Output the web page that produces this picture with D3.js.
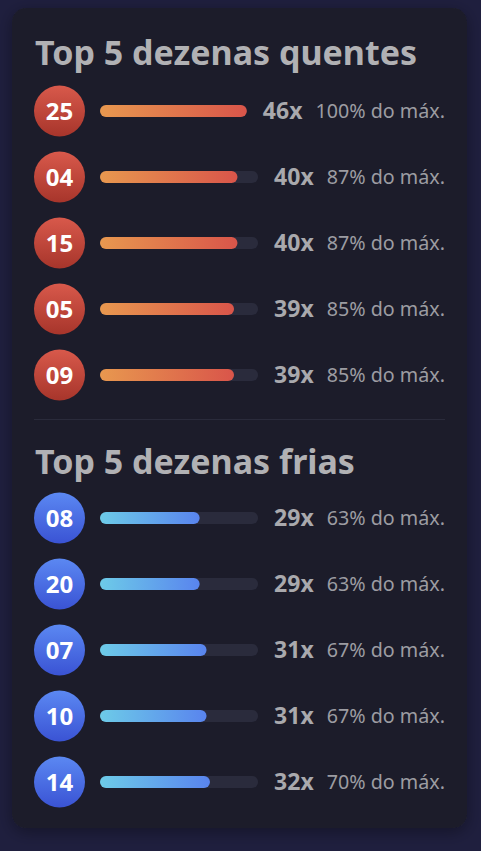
<!DOCTYPE html>
<html>
<head>
<meta charset="utf-8">
<script src="https://cdn.jsdelivr.net/npm/d3@7"></script>
<style>
  html, body { margin: 0; padding: 0; background: #1f1f3e; }
  svg { display: block; }
</style>
</head>
<body>
<div id="main"></div>
<script>
const W = 481, H = 851;

// data
const hotNumbers = ["25", "04", "15", "05", "09"];
const hotCounts = [46, 40, 40, 39, 39];
const coldNumbers = ["08", "20", "07", "10", "14"];
const coldCounts = [29, 29, 31, 31, 32];
const maxCount = 46;
const titles = ["Top 5 dezenas quentes", "Top 5 dezenas frias"];

const FONT = "'Noto Sans', 'Open Sans', sans-serif";

const svg = d3.select("#main").append("svg")
    .attr("width", W)
    .attr("height", H);

const defs = svg.append("defs");

function linGrad(id, c1, c2, vertical) {
    let g = defs.append("linearGradient").attr("id", id)
        .attr("x1", 0).attr("y1", 0)
        .attr("x2", vertical ? 0 : 1).attr("y2", vertical ? 1 : 0);
    g.append("stop").attr("offset", "0%").attr("stop-color", c1);
    g.append("stop").attr("offset", "100%").attr("stop-color", c2);
}
linGrad("ballHot", "#d8594b", "#a7352b", true);
linGrad("ballCold", "#5b88f2", "#3a53d4", true);
linGrad("barHot", "#e8984f", "#d9554a", false);
linGrad("barCold", "#6dcbe8", "#5984ee", false);

// soft shadow under the card
let shadow = defs.append("filter").attr("id", "cardShadow")
    .attr("x", "-10%").attr("y", "-10%").attr("width", "120%").attr("height", "120%");
shadow.append("feDropShadow")
    .attr("dx", 0).attr("dy", 4).attr("stdDeviation", 8)
    .attr("flood-color", "#000").attr("flood-opacity", 0.35);

// card
svg.append("rect")
    .attr("x", 12).attr("y", 8)
    .attr("width", 455).attr("height", 820)
    .attr("rx", 14)
    .attr("fill", "#1c1c2b")
    .attr("filter", "url(#cardShadow)");

const left = 35, right = 445;
const ballCx = 59.5, ballR = 25.5, barX = 100, barH = 12;

function drawSection(title, numbers, counts, titleY, firstRowY, kind) {
    let g = svg.append("g");
    g.append("text")
        .attr("x", left).attr("y", titleY)
        .attr("font-family", FONT)
        .attr("font-weight", 700)
        .attr("font-size", 34)
        .attr("fill", "#b1b1b4")
        .text(title);

    let y = d3.scaleBand()
        .domain(numbers)
        .range([firstRowY - 33, firstRowY - 33 + 66 * numbers.length]);

    let rows = g.selectAll("g.row")
        .data(numbers.map((n, i) => ({num: n, count: counts[i]})))
        .enter()
        .append("g")
        .attr("class", "row")
        .attr("transform", d => `translate(0,${y(d.num) + y.bandwidth() / 2})`);

    rows.append("circle")
        .attr("cx", ballCx).attr("cy", 0).attr("r", ballR)
        .attr("fill", `url(#ball${kind})`);

    rows.append("text")
        .attr("x", ballCx).attr("y", 0)
        .attr("dy", "0.36em")
        .attr("text-anchor", "middle")
        .attr("font-family", FONT)
        .attr("font-weight", 700)
        .attr("font-size", 24)
        .attr("fill", "#ffffff")
        .text(d => d.num);

    // right-hand labels, laid out from the right like a flex row
    rows.append("text")
        .attr("class", "pct")
        .attr("x", right).attr("y", 0)
        .attr("dy", "0.36em")
        .attr("text-anchor", "end")
        .attr("font-family", FONT)
        .attr("font-size", 19.7)
        .attr("fill", "#9c9ca2")
        .text(d => Math.round(d.count / maxCount * 100) + "% do máx.");

    rows.each(function(d) {
        let row = d3.select(this);
        let pw = row.select("text.pct").node().getComputedTextLength();
        let cntX = right - pw - 13;
        let cnt = row.append("text")
            .attr("x", cntX).attr("y", 0)
            .attr("dy", "0.36em")
            .attr("text-anchor", "end")
            .attr("font-family", FONT)
            .attr("font-weight", 700)
            .attr("font-size", 23)
            .attr("fill", "#a9a9ad")
            .text(d.count + "x");
        let cw = cnt.node().getComputedTextLength();
        let trackW = cntX - cw - 16 - barX;
        let x = d3.scaleLinear().domain([0, maxCount]).range([0, trackW]);

        row.insert("rect", "text")
            .attr("x", barX).attr("y", -barH / 2)
            .attr("width", x(maxCount)).attr("height", barH)
            .attr("rx", barH / 2)
            .attr("fill", "#2a2b3c");
        row.insert("rect", "text")
            .attr("x", barX).attr("y", -barH / 2)
            .attr("width", x(d.count)).attr("height", barH)
            .attr("rx", barH / 2)
            .attr("fill", `url(#bar${kind})`);
    });
}

drawSection(titles[0], hotNumbers, hotCounts, 65, 111, "Hot");

svg.append("line")
    .attr("x1", 34).attr("x2", 445)
    .attr("y1", 419.5).attr("y2", 419.5)
    .attr("stroke", "#2a2b3b")
    .attr("stroke-width", 1);

drawSection(titles[1], coldNumbers, coldCounts, 474, 518, "Cold");
</script>
</body>
</html>
